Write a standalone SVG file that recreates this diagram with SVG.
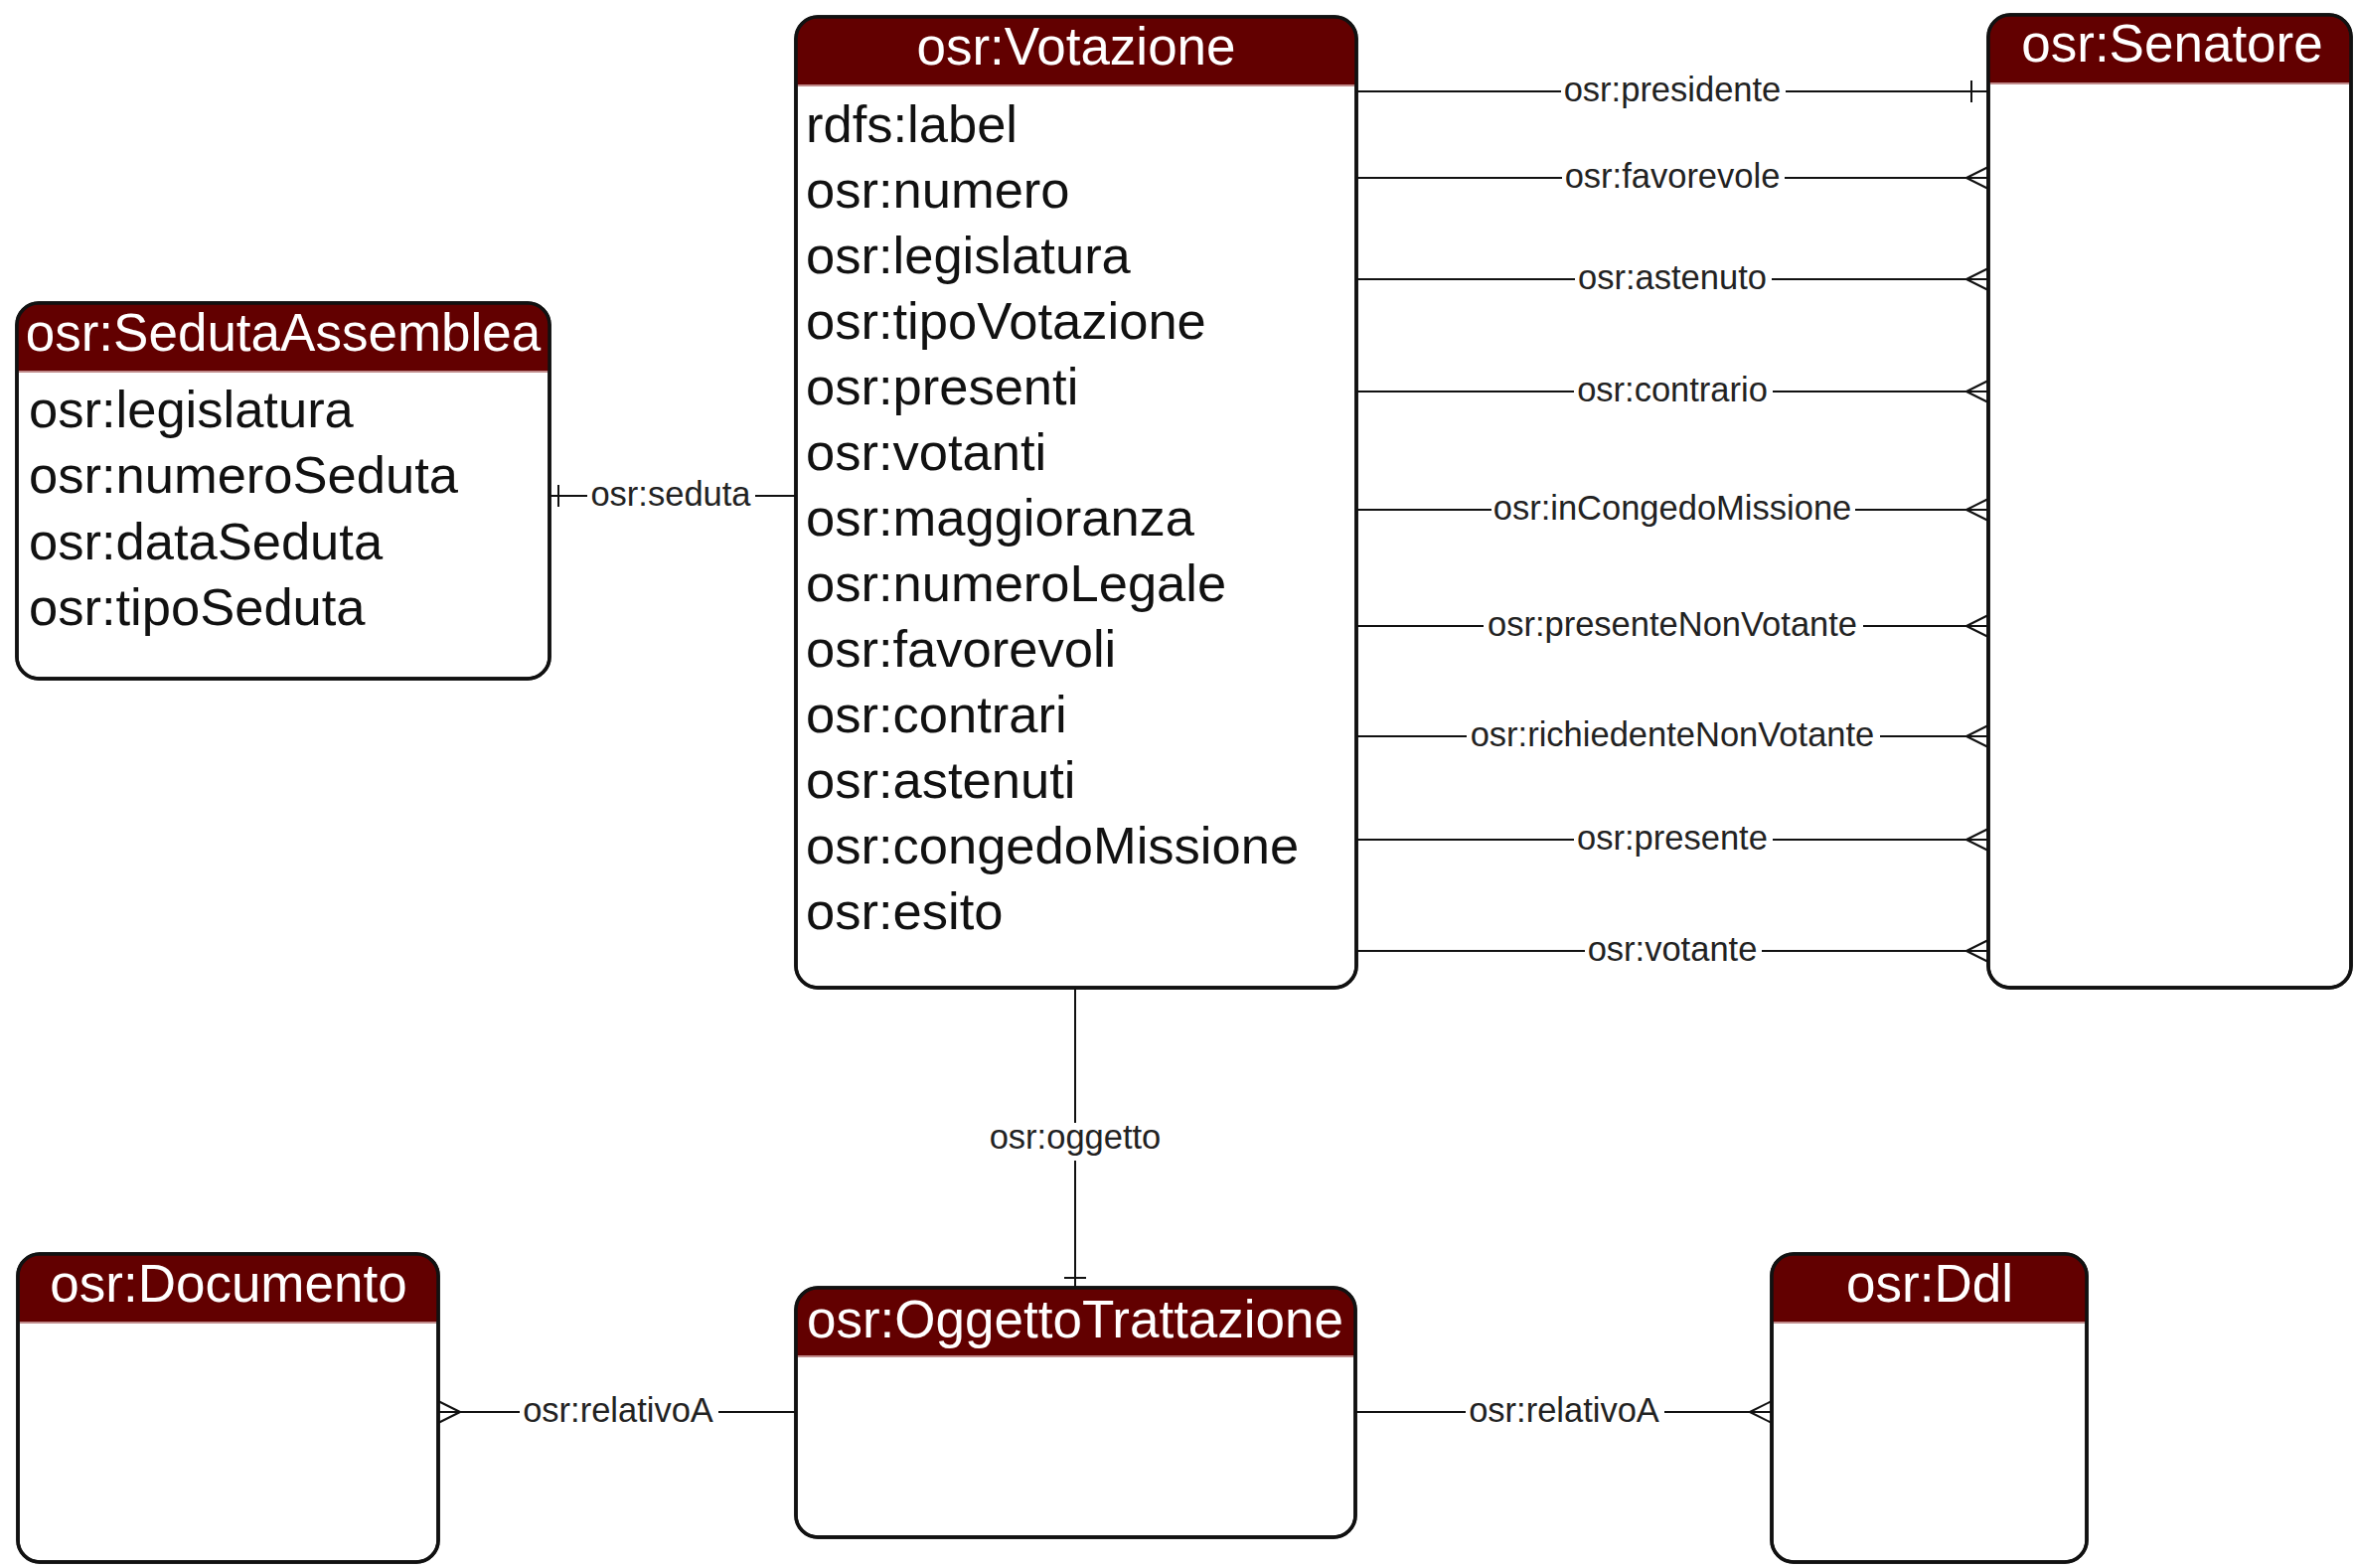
<svg xmlns="http://www.w3.org/2000/svg" width="2369" height="1578" viewBox="0 0 2369 1578">
<style>
.body{fill:#fff;stroke:#111;stroke-width:3.5}
.outline{fill:none;stroke:#111;stroke-width:3.5}
.head{fill:#620000}
.hline{stroke:#c08a8a;stroke-width:2}
.title{font-family:"Liberation Sans",Arial,sans-serif;font-size:53px;fill:#fff;text-anchor:middle}
.attr{font-family:"Liberation Sans",Arial,sans-serif;font-size:52.5px;fill:#111}
.conn{stroke:#111;stroke-width:2;fill:none}
.lbl{font-family:"Liberation Sans",Arial,sans-serif;font-size:34.5px;fill:#222;text-anchor:middle}
</style>
<rect width="2369" height="1578" fill="#fff"/>

<g id="connectors">
  <!-- Votazione - Senatore -->
  <path class="conn" d="M1365,92 H1571 M1797,92 H2001 M1984,81 V103"/>
  <text class="lbl" x="1683" y="102">osr:presidente</text>
  <path class="conn" d="M1365,179 H1572 M1796,179 H2001 M1979,179 L2001,168 M1979,179 L2001,190"/>
  <text class="lbl" x="1683" y="189">osr:favorevole</text>
  <path class="conn" d="M1365,281 H1585 M1783,281 H2001 M1979,281 L2001,270 M1979,281 L2001,292"/>
  <text class="lbl" x="1683" y="291">osr:astenuto</text>
  <path class="conn" d="M1365,394 H1584 M1784,394 H2001 M1979,394 L2001,383 M1979,394 L2001,405"/>
  <text class="lbl" x="1683" y="404">osr:contrario</text>
  <path class="conn" d="M1365,513 H1501 M1867,513 H2001 M1979,513 L2001,502 M1979,513 L2001,524"/>
  <text class="lbl" x="1683" y="523">osr:inCongedoMissione</text>
  <path class="conn" d="M1365,630 H1493 M1875,630 H2001 M1979,630 L2001,619 M1979,630 L2001,641"/>
  <text class="lbl" x="1683" y="640">osr:presenteNonVotante</text>
  <path class="conn" d="M1365,741 H1476 M1892,741 H2001 M1979,741 L2001,730 M1979,741 L2001,752"/>
  <text class="lbl" x="1683" y="751">osr:richiedenteNonVotante</text>
  <path class="conn" d="M1365,845 H1584 M1784,845 H2001 M1979,845 L2001,834 M1979,845 L2001,856"/>
  <text class="lbl" x="1683" y="855">osr:presente</text>
  <path class="conn" d="M1365,957 H1595 M1773,957 H2001 M1979,957 L2001,946 M1979,957 L2001,968"/>
  <text class="lbl" x="1683" y="967">osr:votante</text>
  <!-- Seduta -->
  <path class="conn" d="M553,499 H591 M760,499 H801 M562,488 V510"/>
  <text class="lbl" x="675" y="509">osr:seduta</text>
  <!-- Oggetto -->
  <path class="conn" d="M1082,994 V1130 M1082,1168 V1296 M1071,1286 H1093"/>
  <text class="lbl" x="1082" y="1156">osr:oggetto</text>
  <!-- relativoA left -->
  <path class="conn" d="M441,1421 H523 M723,1421 H801 M463,1421 L441,1410 M463,1421 L441,1432"/>
  <text class="lbl" x="622" y="1431">osr:relativoA</text>
  <!-- relativoA right -->
  <path class="conn" d="M1364,1421 H1475 M1675,1421 H1783 M1761,1421 L1783,1410 M1761,1421 L1783,1432"/>
  <text class="lbl" x="1574" y="1431">osr:relativoA</text>
</g>

<g id="Votazione">
  <rect class="body" x="801" y="17" width="564" height="977" rx="22"/>
  <path class="head" d="M801,85 V39 A22,22 0 0 1 823,17 H1343 A22,22 0 0 1 1365,39 V85 Z"/>
  <line class="hline" x1="803" y1="86" x2="1363" y2="86"/>
  <rect class="outline" x="801" y="17" width="564" height="977" rx="22"/>
  <text class="title" x="1083" y="65">osr:Votazione</text>
  <text class="attr" x="811" y="143">rdfs:label</text>
  <text class="attr" x="811" y="209">osr:numero</text>
  <text class="attr" x="811" y="275">osr:legislatura</text>
  <text class="attr" x="811" y="341">osr:tipoVotazione</text>
  <text class="attr" x="811" y="407">osr:presenti</text>
  <text class="attr" x="811" y="473">osr:votanti</text>
  <text class="attr" x="811" y="539">osr:maggioranza</text>
  <text class="attr" x="811" y="605">osr:numeroLegale</text>
  <text class="attr" x="811" y="671">osr:favorevoli</text>
  <text class="attr" x="811" y="737">osr:contrari</text>
  <text class="attr" x="811" y="803">osr:astenuti</text>
  <text class="attr" x="811" y="869">osr:congedoMissione</text>
  <text class="attr" x="811" y="935">osr:esito</text>
</g>

<g id="SedutaAssemblea">
  <rect class="body" x="17" y="305" width="536" height="378" rx="22"/>
  <path class="head" d="M17,373 V327 A22,22 0 0 1 39,305 H531 A22,22 0 0 1 553,327 V373 Z"/>
  <line class="hline" x1="19" y1="374" x2="551" y2="374"/>
  <rect class="outline" x="17" y="305" width="536" height="378" rx="22"/>
  <text class="title" x="285" y="353">osr:SedutaAssemblea</text>
  <text class="attr" x="29" y="430">osr:legislatura</text>
  <text class="attr" x="29" y="496">osr:numeroSeduta</text>
  <text class="attr" x="29" y="563">osr:dataSeduta</text>
  <text class="attr" x="29" y="629">osr:tipoSeduta</text>
</g>

<g id="Senatore">
  <rect class="body" x="2001" y="15" width="365" height="979" rx="22"/>
  <path class="head" d="M2001,83 V37 A22,22 0 0 1 2023,15 H2344 A22,22 0 0 1 2366,37 V83 Z"/>
  <line class="hline" x1="2003" y1="84" x2="2364" y2="84"/>
  <rect class="outline" x="2001" y="15" width="365" height="979" rx="22"/>
  <text class="title" x="2186" y="62">osr:Senatore</text>
</g>

<g id="Documento">
  <rect class="body" x="18" y="1262" width="423" height="310" rx="22"/>
  <path class="head" d="M18,1330 V1284 A22,22 0 0 1 40,1262 H419 A22,22 0 0 1 441,1284 V1330 Z"/>
  <line class="hline" x1="20" y1="1331" x2="439" y2="1331"/>
  <rect class="outline" x="18" y="1262" width="423" height="310" rx="22"/>
  <text class="title" x="230" y="1310">osr:Documento</text>
</g>

<g id="OggettoTrattazione">
  <rect class="body" x="801" y="1296" width="563" height="251" rx="22"/>
  <path class="head" d="M801,1364 V1318 A22,22 0 0 1 823,1296 H1342 A22,22 0 0 1 1364,1318 V1364 Z"/>
  <line class="hline" x1="803" y1="1365" x2="1362" y2="1365"/>
  <rect class="outline" x="801" y="1296" width="563" height="251" rx="22"/>
  <text class="title" x="1082" y="1346">osr:OggettoTrattazione</text>
</g>

<g id="Ddl">
  <rect class="body" x="1783" y="1262" width="317" height="310" rx="22"/>
  <path class="head" d="M1783,1330 V1284 A22,22 0 0 1 1805,1262 H2078 A22,22 0 0 1 2100,1284 V1330 Z"/>
  <line class="hline" x1="1785" y1="1331" x2="2098" y2="1331"/>
  <rect class="outline" x="1783" y="1262" width="317" height="310" rx="22"/>
  <text class="title" x="1942" y="1310">osr:Ddl</text>
</g>
</svg>
